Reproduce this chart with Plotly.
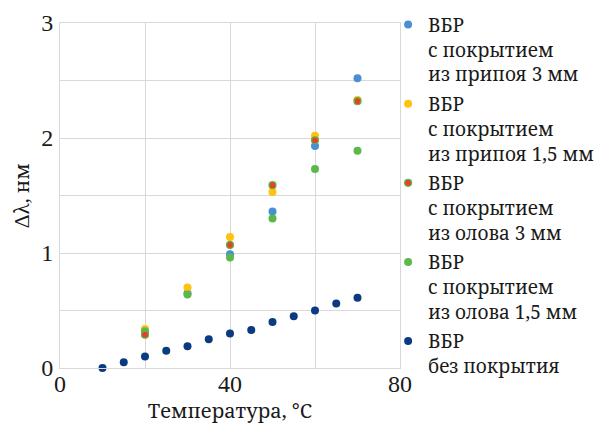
import plotly.graph_objects as go

# Data
x_coated = [20, 30, 40, 50, 60, 70]
y_solder_3 = [0.30, 0.65, 0.99, 1.36, 1.93, 2.52]
y_solder_15 = [0.34, 0.70, 1.14, 1.53, 2.02, 2.33]
x_tin_3 = [20, 40, 50, 60, 70]
y_tin_3 = [0.29, 1.07, 1.59, 1.98, 2.32]
y_tin_15 = [0.32, 0.64, 0.96, 1.30, 1.73, 1.89]
x_bare = [10, 15, 20, 25, 30, 35, 40, 45, 50, 55, 60, 65, 70]
y_bare = [0.00, 0.05, 0.10, 0.15, 0.19, 0.25, 0.30, 0.33, 0.40, 0.45, 0.50, 0.56, 0.61]

names = [
    "ВБР<br>с покрытием<br>из припоя 3 мм",
    "ВБР<br>с покрытием<br>из припоя 1,5 мм",
    "ВБР<br>с покрытием<br>из олова 3 мм",
    "ВБР<br>с покрытием<br>из олова 1,5 мм",
    "ВБР<br>без покрытия",
]

BLUE = "#4a8fd3"
YELLOW = "#ffc20e"
RED = "#e8412b"
GREEN = "#5cb84a"
NAVY = "#0a3b80"

serif_lat = "Liberation Serif"
serif_cyr = "Noto Serif"

fig = go.Figure()
fig.add_trace(go.Scatter(x=x_coated, y=y_solder_3, mode="markers", name=names[0],
                         marker=dict(color=BLUE, size=8), legendrank=1, legendgroup="a"))
fig.add_trace(go.Scatter(x=x_coated, y=y_solder_15, mode="markers", name=names[1],
                         marker=dict(color=YELLOW, size=8), legendrank=2, legendgroup="b"))
fig.add_trace(go.Scatter(x=x_coated, y=y_tin_15, mode="markers", name=names[3],
                         marker=dict(color=GREEN, size=8), legendrank=4, legendgroup="d"))
fig.add_trace(go.Scatter(x=x_tin_3, y=y_tin_3, mode="markers", name=names[2],
                         marker=dict(color=RED, size=7, line=dict(color=GREEN, width=1.2)),
                         legendrank=3, legendgroup="c"))
fig.add_trace(go.Scatter(x=x_bare, y=y_bare, mode="markers", name=names[4],
                         marker=dict(color=NAVY, size=8), legendrank=5, legendgroup="e"))

for tr in fig.data:
    tr.cliponaxis = False

grid = "#d9d9d9"
fig.update_layout(
    width=604, height=421,
    margin=dict(l=52, r=212, t=15, b=61, autoexpand=False),
    paper_bgcolor="white", plot_bgcolor="white",
    font=dict(family=serif_cyr, color="#1a1a1a", size=20),
    showlegend=True,
    legend=dict(
        x=0.965, xanchor="left", y=1.05, yanchor="top",
        bgcolor="rgba(0,0,0,0)", font=dict(family=serif_cyr, size=19, color="#1a1a1a"),
        tracegroupgap=2, itemsizing="trace", valign="top", maxheight=440,
    ),
    xaxis=dict(
        range=[0, 80], tickvals=[0, 40, 80], ticktext=["0", "40", "80"],
        showgrid=True, gridcolor=grid, gridwidth=1,
        minor=dict(dtick=20, tick0=0, showgrid=True, gridcolor=grid, gridwidth=1),
        showline=True, linecolor=grid, linewidth=1, mirror=True,
        zeroline=False, ticks="", tickfont=dict(size=24, family=serif_lat),
        ticklabelstandoff=-6, automargin=False,
        title=dict(text="Температура, °C", font=dict(size=20, family=serif_cyr), standoff=2),
    ),
    yaxis=dict(
        range=[0, 3], tickvals=[0, 1, 2, 3], ticktext=["0", "1", "2", "3"],
        showgrid=True, gridcolor=grid, gridwidth=1,
        minor=dict(dtick=0.5, tick0=0, showgrid=True, gridcolor=grid, gridwidth=1),
        showline=True, linecolor=grid, linewidth=1, mirror=True,
        zeroline=False, ticks="", ticklabelstandoff=1, tickfont=dict(size=24, family=serif_lat),
        automargin=False,
        title=dict(text="Δλ, нм", font=dict(size=20, family=serif_cyr), standoff=6),
    ),
)

fig.write_html("out.html")
